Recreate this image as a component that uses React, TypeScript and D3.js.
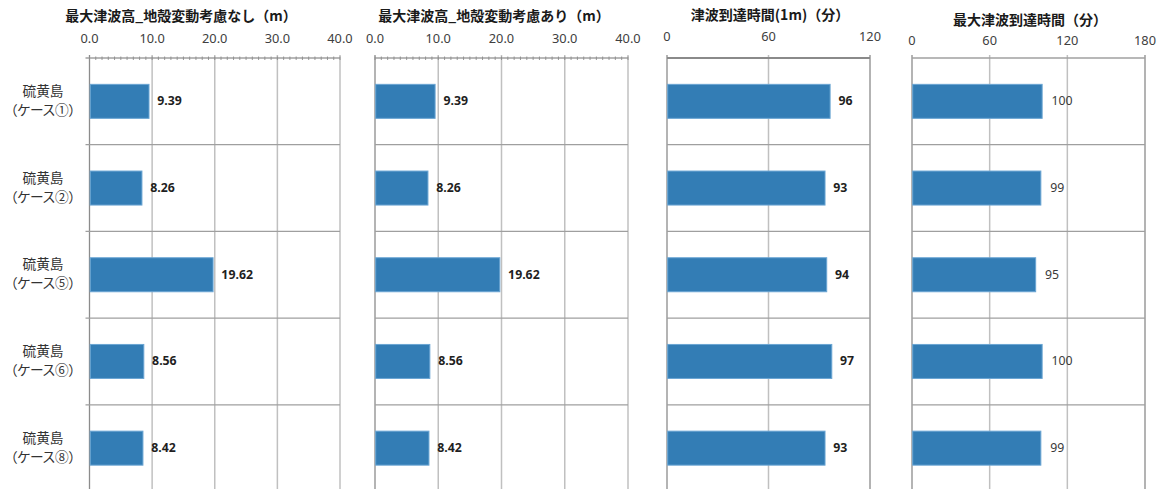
import React from "react";
import * as d3 from "d3";

const categories = ["ケース①", "ケース②", "ケース⑤", "ケース⑥", "ケース⑧"];
const heightNoDeform = [9.39, 8.26, 19.62, 8.56, 8.42];
const heightWithDeform = [9.39, 8.26, 19.62, 8.56, 8.42];
const arrival1m = [96, 93, 94, 97, 93];
const arrivalMax = [100, 99, 95, 100, 99];
const heightTicks = [0, 10, 20, 30, 40];
const arrival1mTicks = [0, 60, 120];
const arrivalMaxTicks = [0, 60, 120, 180];
const titles = [
  "最大津波高_地殻変動考慮なし（m）",
  "最大津波高_地殻変動考慮あり（m）",
  "津波到達時間(1m)（分）",
  "最大津波到達時間（分）",
];

const W = 1165;
const H = 489;
const TOP = 58;
const BOTTOM = 491.5;
const BAR = "#337db5";
const BAR_STROKE = "#6aa5d3";
const JP = "'Noto Sans CJK JP', 'Noto Sans', sans-serif";
const NUM = "'Noto Sans', 'Open Sans', sans-serif";

type Panel = {
  title: string;
  titleX: number;
  titleY: number;
  x0: number;
  x1: number;
  domain: [number, number];
  ticks: number[];
  fmt: (v: number) => string;
  values: number[];
  minor: boolean;
  valueFmt: (v: number) => string;
  bold: boolean;
  tickY: number;
  leftExt: number;
  darkTop: boolean;
};

const panels: Panel[] = [
  {
    title: titles[0], titleX: 181, titleY: 17, x0: 89.5, x1: 340, domain: [0, 40],
    ticks: heightTicks, fmt: d3.format(".1f"), values: heightNoDeform, minor: true,
    valueFmt: d3.format(".2f"), bold: true, tickY: 40, leftExt: 4, darkTop: false,
  },
  {
    title: titles[1], titleX: 494, titleY: 17, x0: 375, x1: 628, domain: [0, 40],
    ticks: heightTicks, fmt: d3.format(".1f"), values: heightWithDeform, minor: true,
    valueFmt: d3.format(".2f"), bold: true, tickY: 40, leftExt: 0, darkTop: false,
  },
  {
    title: titles[2], titleX: 770, titleY: 16, x0: 667, x1: 870, domain: [0, 120],
    ticks: arrival1mTicks, fmt: d3.format("d"), values: arrival1m, minor: false,
    valueFmt: d3.format("d"), bold: true, tickY: 38, leftExt: 0, darkTop: true,
  },
  {
    title: titles[3], titleX: 1030, titleY: 21, x0: 912, x1: 1145, domain: [0, 180],
    ticks: arrivalMaxTicks, fmt: d3.format("d"), values: arrivalMax, minor: false,
    valueFmt: d3.format("d"), bold: false, tickY: 41.5, leftExt: 0, darkTop: false,
  },
];

const y = d3.scaleBand<string>().domain(categories).range([TOP, BOTTOM]).paddingInner(0).paddingOuter(0);
const BAR_H = 34;

function PanelView({ p }: { p: Panel }) {
  const x = d3.scaleLinear().domain(p.domain).range([p.x0, p.x1]);
  const minorTicks = p.minor ? d3.range(p.domain[0], p.domain[1] + 0.001, 1) : [];
  const bands = categories.map((c) => y(c) as number);
  return (
    <g>
      <text x={p.titleX} y={p.titleY} textAnchor="middle" dominantBaseline="middle"
        fontFamily={JP} fontWeight={700} fontSize={14} fill="#1a1a1a">{p.title}</text>
      {p.ticks.map((t) => (
        <text key={"tl" + t} x={x(t)} y={p.tickY} textAnchor="middle" dominantBaseline="middle"
          fontFamily={NUM} fontSize={12.8} fill="#404040">{p.fmt(t)}</text>
      ))}
      {p.ticks.map((t, i) => (
        <line key={"g" + t} x1={x(t)} x2={x(t)} y1={TOP - 3} y2={H}
          stroke={i === 0 ? "#8c8c8c" : i === p.ticks.length - 1 && !p.minor ? "#9a9a9a" : "#c0c0c0"}
          strokeWidth={i === 0 ? 1.3 : 1.5} />
      ))}
      {bands.slice(1).map((b, i) => (
        <line key={"s" + i} x1={p.x0 - p.leftExt} x2={p.x1} y1={b} y2={b} stroke="#9f9f9f" strokeWidth={1.3} />
      ))}
      <line x1={p.x0 - p.leftExt} x2={p.x1} y1={TOP} y2={TOP}
        stroke={p.darkTop ? "#8a8a8a" : "#a0a0a0"} strokeWidth={p.darkTop ? 2 : 1.3} />
      {minorTicks.map((t) => (
        <line key={"m" + t} x1={x(t)} x2={x(t)} y1={TOP - 1.5} y2={TOP + 2} stroke="#8c8c8c" strokeWidth={0.9} />
      ))}
      {p.values.map((v, i) => {
        const cy = bands[i] + y.bandwidth() / 2;
        return (
          <g key={"b" + i}>
            <rect x={x(0) + 0.7} y={cy - BAR_H / 2} width={x(v) - x(0)} height={BAR_H}
              fill={BAR} stroke={BAR_STROKE} strokeWidth={1} />
            <text x={x(v) + (p.bold ? 9 : 10)} y={cy + 0.5} dominantBaseline="middle"
              fontFamily={NUM} fontSize={12.3} fontWeight={p.bold ? 700 : 400}
              fill={p.bold ? "#1f1f1f" : "#3a3a3a"}>{p.valueFmt(v)}</text>
          </g>
        );
      })}
    </g>
  );
}

export default function App() {
  return (
    <div style={{ position: "absolute", left: 0, top: 0, width: W, height: H, background: "#fff" }}>
      <svg width={W} height={H} viewBox={`0 0 ${W} ${H}`} style={{ display: "block" }}>
        <rect width={W} height={H} fill="#fff" />
        {categories.map((c) => {
          const cy = (y(c) as number) + y.bandwidth() / 2;
          return (
            <g key={c} fontFamily={JP} fontSize={13.7} fill="#333">
              <text x={43} y={cy - 9} textAnchor="middle" dominantBaseline="middle">硫黄島</text>
              <text x={43} y={cy + 10} textAnchor="middle" dominantBaseline="middle"
                style={{ fontFeatureSettings: "'palt'" }}>（{c}）</text>
            </g>
          );
        })}
        {panels.map((p, i) => (
          <PanelView key={i} p={p} />
        ))}
      </svg>
    </div>
  );
}
